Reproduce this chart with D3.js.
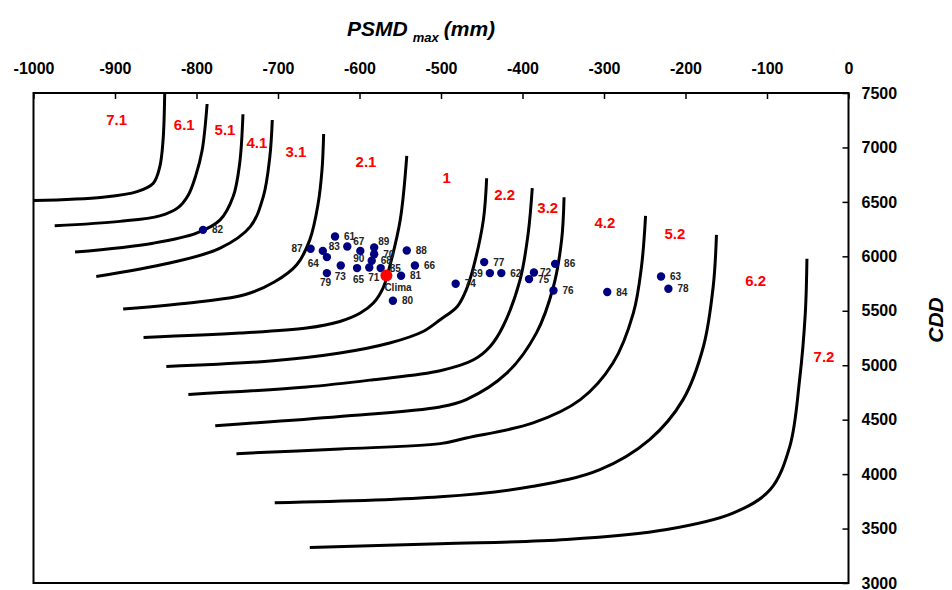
<!DOCTYPE html>
<html lang="es">
<head>
<meta charset="utf-8">
<title>PSMD max - CDD</title>
<script src="https://cdn.jsdelivr.net/npm/d3@7"></script>
<style>
  body { margin: 0; background: #fff; }
  svg { display: block; }
  text { font-family: "Liberation Sans", Arial, sans-serif; }
  .axis text { font-size: 16px; font-weight: bold; fill: #000; }
  .axis line { stroke: #000; stroke-width: 1.5px; }
  .isoline { fill: none; stroke: #000; stroke-width: 3px; }
  .zona { fill: #ff0000; font-size: 15px; font-weight: bold; text-anchor: middle; }
  .etiqueta { font-size: 10px; font-weight: bold; fill: #222; }
  .titulo { font-size: 21px; font-weight: bold; font-style: italic; }
</style>
</head>
<body>
<svg width="952" height="590"></svg>
<script>

// years (points)
var ids  = ["61","62","63","64","65","66","67","68","69","70",
            "71","72","73","74","75","76","77","78","79","80",
            "81","82","83","84","85","86","87","88","89","90"];
var psmd = [-630,-426,-230,-640,-603,-532,-615,-585,-440,-582,
            -588,-386,-623,-482,-392,-362,-447,-221,-640,-559,
            -549,-792,-645,-296,-574,-360,-660,-542,-582,-599];
var cdd  = [6182,5846,5815,5993,5892,5916,6090,5959,5846,6020,
            5897,5851,5916,5748,5791,5686,5947,5702,5846,5592,
            5821,6243,6050,5672,5892,5931,6069,6053,6081,6050];
var clima = [-567, 5824];

// region names between the isolines
var zonas    = ["7.1","6.1","5.1","4.1","3.1","2.1","1","2.2","3.2","4.2","5.2","6.2","7.2"];
var zonaPsmd = [-898,-815,-765,-726,-678,-592,-493,-422,-369,-299,-213,-114,-30];
var zonaCdd  = [7252,7206,7161,7041,6959,6867,6723,6564,6448,6310,6213,5775,5075];

// isolines [PSMD, CDD]
var linea1  = [[-1000,6512],[-915,6543],[-873,6594],[-853,6672],[-845,6824],[-841,7069],[-839,7500]];
var linea2  = [[-974,6280],[-894,6321],[-845,6372],[-823,6445],[-810,6564],[-801,6739],[-793,6977],[-787,7399]];
var linea3  = [[-949,6039],[-853,6121],[-800,6213],[-771,6335],[-755,6549],[-747,6855],[-743,7305]];
var linea4  = [[-923,5815],[-833,5938],[-771,6075],[-734,6273],[-718,6549],[-710,6916],[-707,7252]];
var linea5  = [[-890,5516],[-796,5583],[-741,5647],[-704,5766],[-677,5922],[-661,6151],[-651,6473],[-646,6794],[-644,7124]];
var linea6  = [[-865,5255],[-747,5295],[-665,5341],[-624,5402],[-599,5479],[-583,5571],[-571,5711],[-563,5906],[-550,6335],[-542,6922]];
var linea7  = [[-837,4989],[-706,5041],[-624,5112],[-563,5204],[-522,5310],[-501,5418],[-480,5540],[-469,5693],[-460,5906],[-448,6335],[-444,6717]];
var linea8  = [[-810,4732],[-665,4800],[-583,4867],[-501,4950],[-460,5050],[-440,5170],[-424,5356],[-403,5784],[-393,6213],[-388,6626]];
var linea9  = [[-777,4445],[-624,4530],[-501,4617],[-469,4684],[-419,4929],[-383,5295],[-362,5723],[-352,6151],[-349,6543]];
var linea10 = [[-751,4188],[-624,4231],[-501,4280],[-469,4332],[-387,4470],[-329,4684],[-289,5020],[-264,5479],[-254,5906],[-249,6372]];
var linea11 = [[-704,3736],[-501,3791],[-387,3888],[-305,4041],[-244,4317],[-203,4684],[-178,5172],[-166,5723],[-162,6197]];
var linea12 = [[-661,3326],[-501,3360],[-346,3399],[-223,3491],[-141,3644],[-96,3858],[-72,4255],[-60,4867],[-53,5479],[-51,5977]];
var lineas = [linea1,linea2,linea3,linea4,linea5,linea6,linea7,linea8,linea9,linea10,linea11,linea12];

var xTicks = d3.range(-1000, 1, 100);
var yTicks = d3.range(3000, 7501, 500);

// label placement tweaks [dx, dy, anchor]
var desvio = {
  "87": [-8, 0, "end"], "83": [6, -4], "64": [-8, 6, "end"], "67": [6, -5],
  "90": [-7, 8], "89": [4, -6], "71": [-1, 10], "65": [-4, 11],
  "73": [-6, 11], "79": [-7, 9], "69": [-7, 0, "end"], "72": [6, 0]
};

var svg = d3.select("svg"),
    margin = {top: 93, right: 103.5, bottom: 7, left: 33.5},
    width = +svg.attr("width") - margin.left - margin.right,
    height = +svg.attr("height") - margin.top - margin.bottom;

var x = d3.scaleLinear().domain([-1000, 0]).range([0, width]);
var y = d3.scaleLinear().domain([3000, 7500]).range([height, 0]);

var g = svg.append("g").attr("transform", "translate(" + margin.left + "," + margin.top + ")");

g.append("clipPath").attr("id", "area")
  .append("rect").attr("width", width).attr("height", height);

// axes
var ejeX = g.append("g").attr("class", "axis")
  .call(d3.axisTop(x).tickValues(xTicks).tickSizeInner(-6).tickSizeOuter(0)
    .tickPadding(19).tickFormat(function(d) { return String(d); }));
ejeX.select(".domain").remove();

var ejeY = g.append("g").attr("class", "axis")
  .attr("transform", "translate(" + width + ",0)")
  .call(d3.axisRight(y).tickValues(yTicks).tickSizeInner(-6).tickSizeOuter(0)
    .tickPadding(13).tickFormat(function(d) { return String(d); }));
ejeY.select(".domain").remove();

g.append("rect")
  .attr("width", width).attr("height", height)
  .attr("fill", "none").attr("stroke", "#000").attr("stroke-width", 2);

// isolines
var line = d3.line()
  .x(function(d) { return x(d[0]); })
  .y(function(d) { return y(d[1]); })
  .curve(d3.curveCatmullRom.alpha(0.5));

g.append("g").attr("clip-path", "url(#area)")
  .selectAll("path")
  .data(lineas)
  .enter().append("path")
    .attr("class", "isoline")
    .attr("d", line);

// region names
g.selectAll(".zona")
  .data(zonas)
  .enter().append("text")
    .attr("class", "zona")
    .attr("x", function(d, i) { return x(zonaPsmd[i]); })
    .attr("y", function(d, i) { return y(zonaCdd[i]); })
    .attr("dy", "0.36em")
    .text(function(d) { return d; });

// point labels
g.selectAll(".etiqueta")
  .data(ids)
  .enter().append("text")
    .attr("class", "etiqueta")
    .attr("x", function(d, i) { return x(psmd[i]) + (desvio[d] ? desvio[d][0] : 9); })
    .attr("y", function(d, i) { return y(cdd[i]) + (desvio[d] ? desvio[d][1] : 0); })
    .attr("dy", "0.36em")
    .attr("text-anchor", function(d) { return desvio[d] && desvio[d][2] ? desvio[d][2] : "start"; })
    .text(function(d) { return d; });

// points
g.selectAll(".punto")
  .data(ids)
  .enter().append("circle")
    .attr("class", "punto")
    .attr("cx", function(d, i) { return x(psmd[i]); })
    .attr("cy", function(d, i) { return y(cdd[i]); })
    .attr("r", 4.2)
    .attr("fill", "#000080");

g.append("circle")
  .attr("cx", x(clima[0])).attr("cy", y(clima[1]))
  .attr("r", 6).attr("fill", "#ff0000");

g.append("text")
  .attr("class", "etiqueta")
  .attr("x", x(clima[0]) - 2).attr("y", y(clima[1]) + 12)
  .attr("dy", "0.36em")
  .text("Clima");

// titles
var titulo = svg.append("text").attr("class", "titulo").attr("x", 347).attr("y", 36);
titulo.append("tspan").text("PSMD");
titulo.append("tspan").attr("font-size", "13px").attr("dx", 5).attr("dy", 6).text("max");
titulo.append("tspan").attr("dx", 5).attr("dy", -6).text("(mm)");

svg.append("text")
  .attr("class", "titulo")
  .attr("font-size", "23px")
  .attr("text-anchor", "middle")
  .attr("transform", "translate(943,320) rotate(-90)")
  .text("CDD");

</script>
</body>
</html>
